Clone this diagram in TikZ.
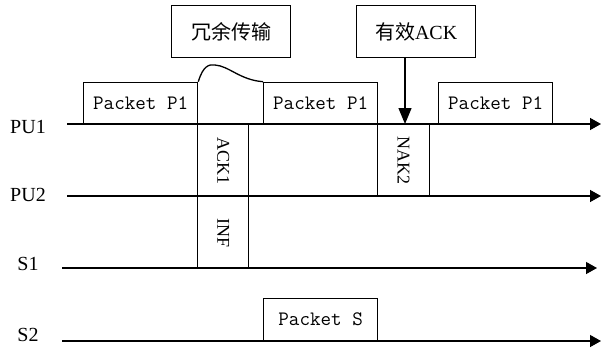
\documentclass[tikz,border=0pt]{standalone}
\usepackage{fontspec}
\setmainfont{Liberation Serif}
\newfontfamily\cjk{Noto Sans CJK SC}
\usetikzlibrary{arrows.meta,positioning,calc}

\begin{document}
\begin{tikzpicture}[x=1pt, y=-1pt,
  pkt/.style={rectangle, draw, line width=1.3pt, anchor=south west,
              minimum width=114pt, minimum height=41pt, inner sep=0pt,
              font=\ttfamily\fontsize{20.5}{22}\selectfont},
  slot/.style={rectangle, draw, line width=1.3pt, anchor=north west,
               minimum width=51pt, minimum height=72pt, inner sep=0pt},
  vtxt/.style={rotate=-90, font=\fontsize{18}{20}\selectfont},
  call/.style={rectangle, draw, line width=1.3pt, anchor=north west,
               minimum width=119pt, minimum height=52pt, inner sep=0pt,
               font=\fontsize{20}{24}\selectfont},
  lane/.style={font=\fontsize{20}{24}\selectfont},
  axis/.style={draw, line width=1.3pt, -{Triangle[length=11pt,width=12pt]}},
  pointer/.style={draw, line width=1.3pt, -{Triangle[length=16pt,width=13pt]}},
]
  \useasboundingbox (0,0) rectangle (601,348);

  % Time lines
  \coordinate (pu1s) at (67,124);  \coordinate (pu1e) at (601,124);
  \coordinate (pu2s) at (67,196);  \coordinate (pu2e) at (601,196);
  \coordinate (s1s)  at (62,268);  \coordinate (s1e)  at (597,268);
  \coordinate (s2s)  at (62,341);  \coordinate (s2e)  at (601,341);

  \node[lane] (lpu1) at (28,127) {PU1};
  \node[lane] (lpu2) at (28,195) {PU2};
  \node[lane] (ls1)  at (28,264) {S1};
  \node[lane] (ls2)  at (28,335) {S2};

  % Packets on PU1
  \node[pkt] (p1a) at (83,124)  {Packet P1};
  \node[pkt] (p1b) at (263,124) {Packet P1};
  \node[pkt] (p1c) at (438,124) {Packet P1};

  % Packet on S2
  \node[pkt, minimum height=42pt] (ps) at (263,341) {Packet S};

  % ACK / NAK / INF slots
  \node[slot] (ack1) at (197,124) {};
  \node[vtxt] at (ack1.center) {ACK1};
  \node[slot] (inf) at (197,196) {};
  \node[vtxt] at (inf.center) {INF};
  \node[slot, minimum width=52pt] (nak2) at (377,124) {};
  \node[vtxt] at (nak2.center) {NAK2};

  % Redundant transmission bump
  \draw[line width=1.3pt] (p1a.north east)
    .. controls (203,66) and (209,64) .. (215,65)
    .. controls (229,66) and (240,80) .. (p1b.north west);

  \draw[axis] (pu1s) -- (pu1e);
  \draw[axis] (pu2s) -- (pu2e);
  \draw[axis] (s1s) -- (s1e);
  \draw[axis] (s2s) -- (s2e);

  % Callouts
  \node[call] (redund) at (171,5) {\cjk 冗余传输};
  \node[call] (valid) at (356,5) {{\cjk 有效}ACK};
  \coordinate (hit) at (405,124);
  \draw[pointer] (valid.south -| hit) -- (hit);

\end{tikzpicture}
\end{document}
